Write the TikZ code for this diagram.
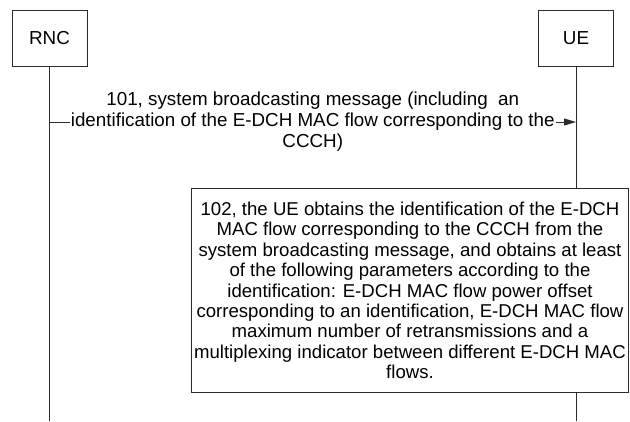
\documentclass[tikz,border=0pt]{standalone}
\usepackage{fontspec}
\setmainfont{Liberation Sans}
\usetikzlibrary{arrows.meta, positioning}
\definecolor{cline}{HTML}{2B2B2B}
\tikzset{
  every picture/.style={line width=1pt, x=1pt, y=-1pt},
  actor/.style={draw=cline, fill=white, minimum width=75pt, minimum height=56pt, font=\fontsize{18.8}{20.5}\selectfont},
  life/.style={draw=cline},
  msg/.style={-{Triangle[length=12pt, width=7pt]}, draw=cline},
  msgtext/.style={fill=white, align=center, inner sep=1pt, font=\fontsize{18.8}{21}\selectfont},
  stepbox/.style={draw=cline, fill=white, align=center, inner xsep=1pt, inner ysep=4pt, font=\fontsize{18.6}{20.4}\selectfont},
}

\begin{document}
\begin{tikzpicture}
  \useasboundingbox (0,0) rectangle (630,421);
  % actors and lifelines
  \node[actor] (rnc) at (49.5,38.5) {RNC};
  \node[actor] (ue) at (576,38.5) {UE};
  \coordinate (rncend) at (rnc.south |- 0,421);
  \coordinate (ueend) at (ue.south |- 0,421);
  \draw[life] (rnc) -- (rncend);
  \draw[life] (ue) -- (ueend);
  % step 101
  \coordinate (m1a) at (rnc.south |- 0,122);
  \coordinate (m1b) at (ue.south |- 0,122);
  \draw[msg] (m1a) -- (m1b) node[midway, msgtext] (t101) {101, system broadcasting message (including~~an\\identification of the E-DCH MAC flow corresponding to the\\CCCH)};
  % step 102
  \node[stepbox, anchor=north west, minimum width=437pt, minimum height=204pt] (s102) at (191,188) {102, the UE obtains the identification of the E-DCH\\MAC flow corresponding to the CCCH from the\\system broadcasting message, and obtains at least\\of the following parameters according to the\\identification: E-DCH MAC flow power offset\\corresponding to an identification, E-DCH MAC flow\\maximum number of retransmissions and a\\multiplexing indicator between different E-DCH MAC\\flows.};
\end{tikzpicture}
\end{document}
